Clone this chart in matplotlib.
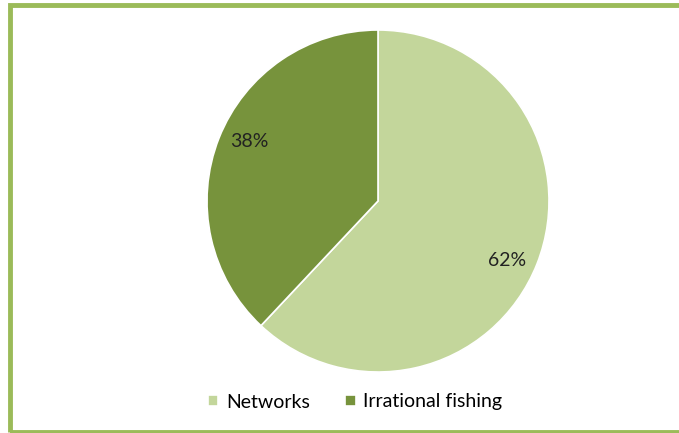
import numpy as np
import matplotlib
matplotlib.use("Agg")
import matplotlib.pyplot as plt
from matplotlib.patches import Rectangle

# chart data
labels = ["Networks", "Irrational fishing"]
shares = [62, 38]
colors = ["#c3d69b", "#77933c"]

W, H = 679, 433
plt.rcParams['font.family'] = ['Lato', 'DejaVu Sans']

fig = plt.figure(figsize=(W / 100, H / 100), dpi=100)
fig.patch.set_facecolor("white")

# green frame around the chart (right edge cut off in the reference)
fig.patches.append(Rectangle((10 / W, 1.5 / H), 1.2, 1 - 6 / H, transform=fig.transFigure,
                             fill=False, edgecolor="#9bbb59", linewidth=3.5))

# pie centred at (378, 201) px, radius 171 px
ax = fig.add_axes([207 / W, 61 / H, 342 / W, 342 / H])
wedges, texts, autotexts = ax.pie(shares, colors=colors, startangle=90, counterclock=False,
                                  autopct='%1.0f%%', pctdistance=0.83,
                                  wedgeprops=dict(edgecolor="white", linewidth=1.2),
                                  textprops=dict(fontsize=14, color="#222222"))
# labels sit a little clockwise of the slice middle in the reference
rot = np.deg2rad(-3)
for t in autotexts:
    x, y = t.get_position()
    t.set_position((x * np.cos(rot) - y * np.sin(rot), x * np.sin(rot) + y * np.cos(rot)))
ax.set_xlim(-1, 1)
ax.set_ylim(-1, 1)
ax.set_aspect('equal')
ax.axis('off')

fig.legend(wedges, labels, loc='center', bbox_to_anchor=(355 / W, 1 - 402 / H), ncol=2,
           frameon=False, fontsize=14, handlelength=0.55, handleheight=0.55,
           handletextpad=0.4, columnspacing=1.8)

fig.savefig("out.png", dpi=100)
